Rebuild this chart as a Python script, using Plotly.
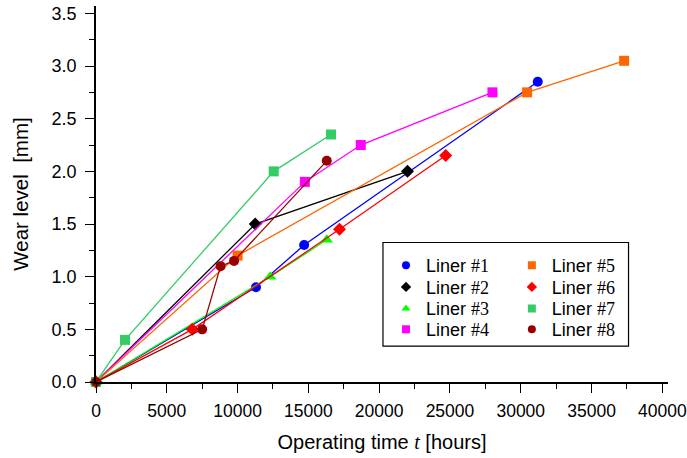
import plotly.graph_objects as go

names = ["Liner #1", "Liner #2", "Liner #3", "Liner #4",
         "Liner #5", "Liner #6", "Liner #7", "Liner #8"]
colors = ["#0000ff", "#000000", "#00ff00", "#ff00ff",
          "#ff6600", "#ff0000", "#33cc66", "#990000"]
symbols = ["circle", "diamond", "triangle-up", "square",
           "square", "diamond", "square", "circle"]

t1 = [0, 11300, 14700, 31200]
w1 = [0, 0.9, 1.3, 2.85]
t2 = [0, 11250, 22000]
w2 = [0, 1.5, 2.0]
t3 = [0, 12300, 16300]
w3 = [0, 1.0, 1.35]
t4 = [0, 14750, 18700, 28000]
w4 = [0, 1.9, 2.25, 2.75]
t5 = [0, 10000, 30450, 37300]
w5 = [0, 1.2, 2.75, 3.05]
t6 = [0, 6800, 17200, 24700]
w6 = [0, 0.5, 1.45, 2.15]
t7 = [0, 2050, 12550, 16600]
w7 = [0, 0.4, 2.0, 2.35]
t8 = [0, 7500, 8800, 9750, 16300]
w8 = [0, 0.5, 1.1, 1.15, 2.1]

times = [t1, t2, t3, t4, t5, t6, t7, t8]
wears = [w1, w2, w3, w4, w5, w6, w7, w8]

xticks = [0, 5000, 10000, 15000, 20000, 25000, 30000, 35000, 40000]
yticks = [0.0, 0.5, 1.0, 1.5, 2.0, 2.5, 3.0, 3.5]

sans = "Liberation Sans, Arial, sans-serif"
serif = "'Liberation Serif', 'Times New Roman', serif"

fig = go.Figure()
for i in range(8):
    msize = 11 if symbols[i] == "triangle-up" else 10
    fig.add_trace(go.Scatter(
        x=times[i], y=wears[i], mode="lines+markers", showlegend=False,
        line=dict(color=colors[i], width=1.3),
        marker=dict(symbol=symbols[i], color=colors[i], size=msize),
        cliponaxis=False,
    ))

legend_keys = ["legend"] + [f"legend{k}" for k in range(2, 9)]
col_x = [0.507, 0.727]
row_y = [0.3095, 0.2521, 0.1950, 0.1394]
legend_layout = {}
for i in range(8):
    base, num = names[i].split(" ")
    label = f'{base} <span style="font-family:{serif}">{num}</span>'
    fig.add_trace(go.Scatter(
        x=[None], y=[None], mode="markers", name=label,
        marker=dict(symbol=symbols[i], color=colors[i], size=8),
        legend=legend_keys[i],
    ))
    legend_layout[legend_keys[i]] = dict(
        x=col_x[i // 4], y=row_y[i % 4], xanchor="left", yanchor="middle",
        bgcolor="rgba(0,0,0,0)", font=dict(size=18), borderwidth=0)

fig.update_layout(
    width=687, height=458,
    margin=dict(l=96, r=19, t=4, b=76),
    paper_bgcolor="white", plot_bgcolor="white",
    font=dict(family=sans, size=18, color="black"),
    showlegend=True,
    shapes=[dict(type="rect", xref="paper", yref="paper",
                 x0=0.5017, x1=0.931, y0=0.0952, y1=0.371,
                 line=dict(color="black", width=1.2), fillcolor="rgba(0,0,0,0)")],
    **legend_layout,
)
fig.update_xaxes(
    range=[0, 40400], tickvals=xticks, ticktext=[str(v) for v in xticks],
    showgrid=False, zeroline=False, showline=True, linecolor="black", linewidth=1.5,
    ticks="outside", ticklen=9, tickwidth=1.3, tickcolor="black", automargin=False,
    ticklabeloverflow="allow", ticklabelstandoff=3, tickfont=dict(size=17.5),
    minor=dict(dtick=2500, ticks="outside", ticklen=5, tickwidth=1.3, tickcolor="black"),
    title=dict(text=f'Operating time <span style="font-family:{serif}"><i>t</i></span> [hours]',
               font=dict(size=20)),
)
fig.update_yaxes(
    range=[0, 3.57], tickvals=yticks, ticktext=[f"{v:.1f}" for v in yticks],
    showgrid=False, zeroline=False, showline=True, linecolor="black", linewidth=1.5,
    ticks="outside", ticklen=9, tickwidth=1.3, tickcolor="black", automargin=True,
    ticklabeloverflow="allow", ticklabelstandoff=5,
    minor=dict(dtick=0.25, ticks="outside", ticklen=5, tickwidth=1.3, tickcolor="black"),
    title=dict(text="Wear level  [mm]", font=dict(size=20.5), standoff=17),
)

fig.write_html("out.html", config={"displayModeBar": False},
               post_script="document.body.style.margin='0';")
